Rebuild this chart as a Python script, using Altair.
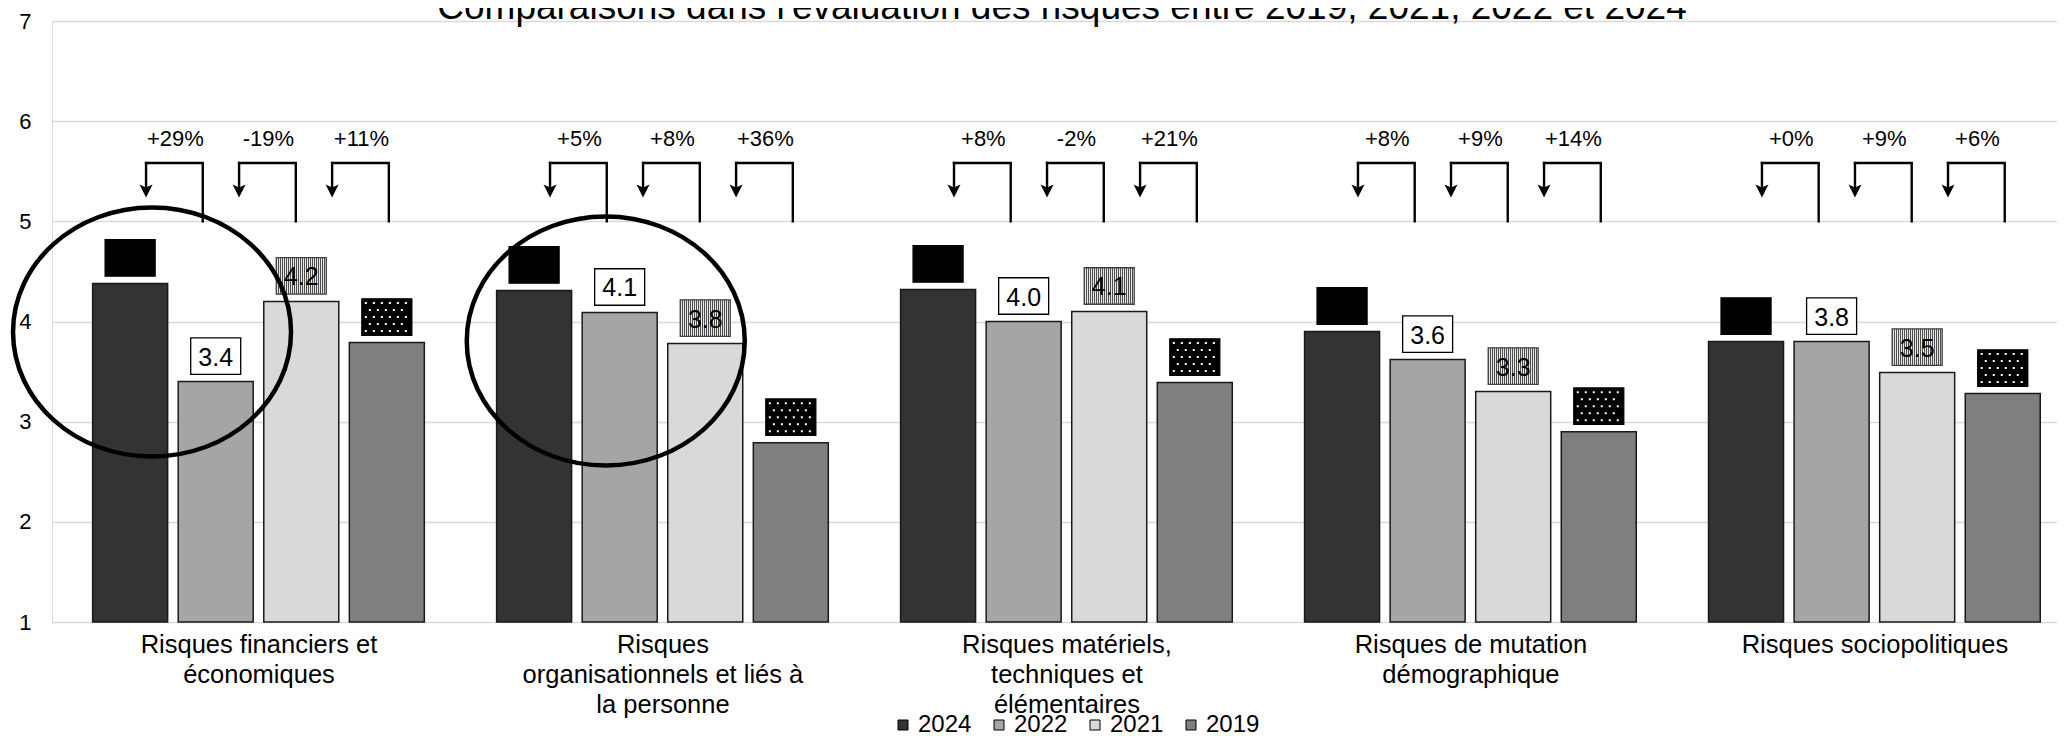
import json
import altair as alt
import pandas as pd

# ---------------- data ----------------
categories = [
    ["Risques financiers et", "économiques"],
    ["Risques", "organisationnels et liés à", "la personne"],
    ["Risques matériels,", "techniques et", "élémentaires"],
    ["Risques de mutation", "démographique"],
    ["Risques sociopolitiques"],
]
years = ["2024", "2022", "2021", "2019"]
v2024 = [4.38, 4.31, 4.32, 3.90, 3.80]
v2022 = [3.40, 4.09, 4.00, 3.62, 3.80]
v2021 = [4.20, 3.78, 4.10, 3.30, 3.49]
v2019 = [3.79, 2.79, 3.39, 2.90, 3.28]
changes = [
    ["+29%", "-19%", "+11%"],
    ["+5%", "+8%", "+36%"],
    ["+8%", "-2%", "+21%"],
    ["+8%", "+9%", "+14%"],
    ["+0%", "+9%", "+6%"],
]
y_ticks = [1, 2, 3, 4, 5, 6, 7]
bar_colors = ["#333333", "#a5a5a5", "#d9d9d9", "#7f7f7f"]
title_text = "Comparaisons dans l'évaluation des risques entre 2019, 2021, 2022 et 2024"

FONT = "Liberation Sans"

# ---------------- layout constants ----------------
PAD = {"left": 44, "top": 13, "right": 0, "bottom": 114}
W, H = 2005, 601
GROUP_PX = 406.0
X0 = -202.5 / GROUP_PX
x_scale = alt.Scale(domain=[X0, X0 + W / GROUP_PX], nice=False, zero=False)
y_scale = alt.Scale(domain=[1, 7], nice=False, zero=False)
UNIT = H / 6.0
PLOT_TOP = 8 + PAD["top"]


def v_at(page_y):
    """value on the y scale that sits at a given page row (for annotations)"""
    return 7 - (page_y - PLOT_TOP) / UNIT


BAR_STEP = 86 / GROUP_PX

series = dict(zip(years, [v2024, v2022, v2021, v2019]))
rows = []
for gi in range(len(categories)):
    for k, yr in enumerate(years):
        rows.append({"g": gi, "year": yr, "value": series[yr][gi],
                     "xc": gi + (k - 1.5) * BAR_STEP})
df = pd.DataFrame(rows)

brows = []
for gi in range(len(categories)):
    for j in range(3):
        xl = gi + (-113 + 93.5 * j) / GROUP_PX
        xr = xl + 57 / GROUP_PX
        brows.append({"xl": xl, "xr": xr, "xm": (xl + xr) / 2, "label": changes[gi][j]})
bdf = pd.DataFrame(brows)

edf = pd.DataFrame([
    {"x": 0 - 107 / GROUP_PX, "y": v_at(332.0)},
    {"x": 1 - 57 / GROUP_PX, "y": v_at(341.0)},
])
tdf = pd.DataFrame([{"t": title_text}])

label_lines = json.dumps(categories, ensure_ascii=False)

x_axis = alt.Axis(values=[0, 1, 2, 3, 4], labelExpr=f"{label_lines}[datum.value]",
                  labelFontSize=25.5, labelLineHeight=30, labelPadding=10, labelFont=FONT,
                  labelColor="black", ticks=False, tickSize=0, domain=False, grid=False,
                  labelFlush=False, labelOverlap=False, labelLimit=600, title="")
y_axis = alt.Axis(values=y_ticks, format="d", grid=True, gridColor="#d9d9d9", gridWidth=1.5,
                  domain=False, ticks=False, tickSize=0, labelFontSize=22, labelPadding=21,
                  labelFont=FONT, labelColor="black", title="")

base = alt.Chart(df)

bars = base.mark_bar(size=75, stroke="#1a1a1a", strokeWidth=1.5).encode(
    x=alt.X("xc:Q", scale=x_scale, axis=x_axis),
    y=alt.Y("value:Q", scale=y_scale, axis=y_axis),
    y2=alt.datum(1),
    color=alt.Color("year:N", scale=alt.Scale(domain=years, range=bar_colors),
                    legend=alt.Legend(orient="none", legendX=839, legendY=692, direction="horizontal",
                                      title="", symbolType="square", symbolSize=100,
                                      symbolStrokeColor="black", symbolStrokeWidth=1,
                                      labelFontSize=24, labelFont=FONT, labelColor="black",
                                      labelOffset=3, columnPadding=15, padding=0)),
)

# fine texture for the 2021 label boxes (alternating thin stripes)
N_STRIPES = 50
stops = []
for i in range(N_STRIPES):
    col = "#4d4d4d" if i % 2 == 0 else "#e8e8e8"
    stops.append(alt.GradientStop(offset=i / N_STRIPES, color=col))
    stops.append(alt.GradientStop(offset=(i + 1) / N_STRIPES, color=col))
texture = alt.LinearGradient(gradient="linear", stops=stops, x1=0, x2=1, y1=0, y2=0)

RECT = "M-1,-0.73L1,-0.73L1,0.73L-1,0.73Z"
BOX_OFF = -25.5
box_styles = {
    "2024": dict(fill="black", stroke="black"),
    "2022": dict(fill="white", stroke="black"),
    "2021": dict(fill=texture, stroke="#404040"),
    "2019": dict(fill="black", stroke="black"),
}
boxes = []
for yr in years:
    boxes.append(base.transform_filter(alt.datum.year == yr).mark_point(
        shape=RECT, size=2500, filled=True, opacity=1, strokeWidth=1.3, yOffset=BOX_OFF,
        **box_styles[yr]).encode(
        x=alt.X("xc:Q", scale=x_scale),
        y=alt.Y("value:Q", scale=y_scale)))

texts = base.mark_text(fontSize=25, font=FONT, color="black", baseline="middle",
                       yOffset=BOX_OFF + 1.5).encode(
    x=alt.X("xc:Q", scale=x_scale),
    y=alt.Y("value:Q", scale=y_scale),
    text=alt.Text("value:Q", format=".1f"))

dots = []
for i, r in enumerate([-14, -7, 0, 7, 14]):
    dots.append(base.transform_filter(alt.datum.year == "2019").mark_rule(
        color="white", strokeWidth=2, strokeDash=[2, 6], strokeDashOffset=(0 if i % 2 == 0 else 4),
        xOffset=-22, x2Offset=22, yOffset=BOX_OFF + r).encode(
        x=alt.X("xc:Q", scale=x_scale),
        x2="xc:Q",
        y=alt.Y("value:Q", scale=y_scale)))

bbase = alt.Chart(bdf)
LW = 2.4
left_leg = bbase.mark_rule(color="black", strokeWidth=LW, strokeCap="square").encode(
    x=alt.X("xl:Q", scale=x_scale),
    y=alt.YDatum(v_at(163), scale=y_scale), y2=alt.datum(v_at(190)))
top_bar = bbase.mark_rule(color="black", strokeWidth=LW, strokeCap="square").encode(
    x=alt.X("xl:Q", scale=x_scale), x2="xr:Q",
    y=alt.YDatum(v_at(163), scale=y_scale))
right_leg = bbase.mark_rule(color="black", strokeWidth=LW, strokeCap="butt").encode(
    x=alt.X("xr:Q", scale=x_scale),
    y=alt.YDatum(v_at(163), scale=y_scale), y2=alt.datum(v_at(222.5)))
ARROW = "M0,1L-1,-1L0,-0.55L1,-1Z"
heads = bbase.mark_point(shape=ARROW, size=169, filled=True, color="black", opacity=1).encode(
    x=alt.X("xl:Q", scale=x_scale),
    y=alt.YDatum(v_at(191), scale=y_scale))
pct = bbase.mark_text(fontSize=22, font=FONT, color="black", baseline="alphabetic", dx=1).encode(
    x=alt.X("xm:Q", scale=x_scale),
    y=alt.YDatum(v_at(146), scale=y_scale),
    text="label:N")

k = 0.896
c = 0.5523
ELL = (f"M-1,0C-1,{-c*k:.4f} {-c:.4f},{-k} 0,{-k}C{c:.4f},{-k} 1,{-c*k:.4f} 1,0"
       f"C1,{c*k:.4f} {c:.4f},{k} 0,{k}C{-c:.4f},{k} -1,{c*k:.4f} -1,0Z")
ellipses = alt.Chart(edf).mark_point(shape=ELL, size=(2 * 139) ** 2, filled=False, stroke="black",
                                     strokeWidth=4.5, opacity=1).encode(
    x=alt.X("x:Q", scale=x_scale),
    y=alt.Y("y:Q", scale=y_scale))

# chart title, centred a little right of the plot centre, partly above the page top
title = alt.Chart(tdf).mark_text(fontSize=37, font=FONT, color="black", baseline="alphabetic",
                                 align="center").encode(
    x=alt.value(1062 - 8 - PAD["left"]), y=alt.value(19 - PLOT_TOP), text="t:N")

chart = alt.layer(
    bars, *boxes, texts, *dots, left_leg, top_bar, right_leg, heads, pct, ellipses, title
).properties(
    width=W, height=H,
    autosize=alt.AutoSizeParams(type="none"),
    padding=PAD,
    background="white",
).configure_view(strokeWidth=0, stroke="transparent").configure(font=FONT)

chart.save("out.html", embed_options={"renderer": "svg", "actions": False})
